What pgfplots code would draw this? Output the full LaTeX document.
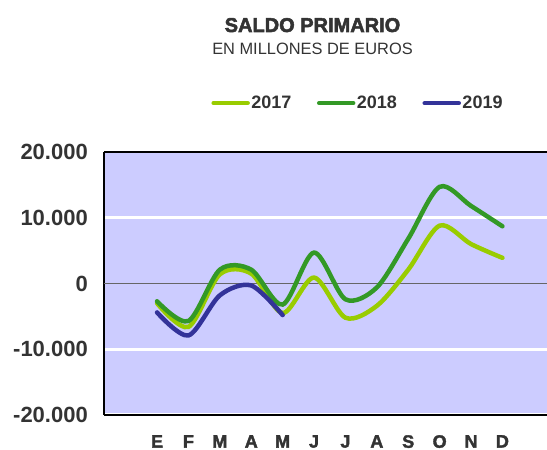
\documentclass[border=0pt]{standalone}
\usepackage{pgfplots}
\pgfplotsset{compat=1.18}
\usepackage{fontspec}
\setmainfont{Liberation Sans}
\newfontfamily\heavy[FakeBold=2.6]{Liberation Sans}
\newfontfamily\semiheavy[FakeBold=2.0]{Liberation Sans}
\definecolor{bgc}{RGB}{204,204,255}
\definecolor{lg}{RGB}{153,204,0}
\definecolor{dg}{RGB}{51,153,38}
\definecolor{bl}{RGB}{51,51,153}
\definecolor{txt}{RGB}{51,51,51}
\begin{document}
\begin{tikzpicture}
\begin{axis}[
  at={(104bp,35bp)}, anchor=south west,
  scale only axis, width=443bp, height=263bp,
  xmin=-1.69, xmax=12.42, ymin=-20000, ymax=20000,
  scaled y ticks=false,
  axis x line*=box, axis y line*=left,
  axis line style={black, line width=1.5bp},
  axis background/.style={fill=bgc},
  xtick={0,1,2,3,4,5,6,7,8,9,10,11},
  xticklabels={E,F,M,A,M,J,J,A,S,O,N,D},
  ytick={-20000,-10000,10000,20000},
  yticklabels={-20.000,-10.000,10.000,20.000},
  extra y ticks={0}, extra y tick labels={0},
  extra y tick style={grid style={color=black!60, line width=1.2bp}},
  ymajorgrids, grid style={white, line width=3bp},
  major tick length=0pt,
  xticklabel style={inner sep=0pt, anchor=north, yshift=-20bp, font=\fontsize{18bp}{20bp}\semiheavy\bfseries, text=txt},
  yticklabel style={inner sep=0pt, anchor=east, xshift=-16bp, font=\fontsize{22bp}{24bp}\selectfont\bfseries, text=txt},
  legend style={at={(axis description cs:0.242,1.186)}, anchor=west, draw=none, fill=none, inner sep=0pt,
    font=\fontsize{18bp}{20bp}\selectfont\bfseries, text=txt,
    /tikz/every even column/.append style={column sep=24bp},
    nodes={inner sep=1.5bp}},
  legend columns=-1,
  legend image code/.code={\draw[#1, line width=4.5bp, line cap=round] (0bp,0bp) -- (34bp,0bp);},
]
\addplot[lg, line width=4.5bp, smooth, line cap=round] coordinates {
 (0,-3000) (1,-6600) (2,1400) (3,1500) (4,-4500) (5,900) (6,-5200) (7,-3400) (8,2100) (9,8800) (10,6000) (11,3900)};
\addlegendentry{2017}
\addplot[dg, line width=4.5bp, smooth, line cap=round] coordinates {
 (0,-2700) (1,-5700) (2,2100) (3,2100) (4,-3200) (5,4700) (6,-2400) (7,-600) (8,6800) (9,14700) (10,11800) (11,8700)};
\addlegendentry{2018}
\addplot[bl, line width=4.5bp, smooth, line cap=round] coordinates {
 (0,-4400) (1,-7900) (2,-1800) (3,-300) (4,-4800)};
\addlegendentry{2019}
\end{axis}
\node[anchor=base, text=txt, font=\fontsize{20bp}{22bp}\heavy\bfseries] at (312.5bp,418bp) {SALDO PRIMARIO};
\node[anchor=base, text=txt, font=\fontsize{16.4bp}{18bp}\selectfont] at (312.5bp,395bp) {EN MILLONES DE EUROS};
\pgfresetboundingbox
\useasboundingbox (0,0) rectangle (547bp,450bp);
\end{tikzpicture}
\end{document}
